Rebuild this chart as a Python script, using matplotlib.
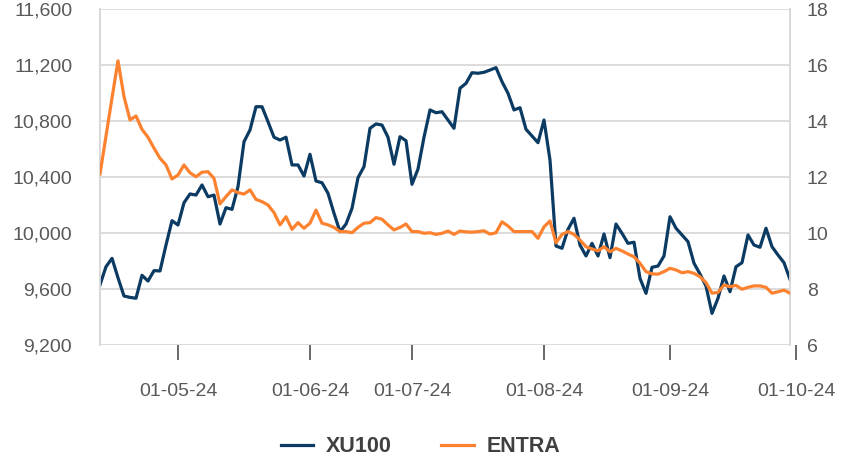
import numpy as np
import pandas as pd
import matplotlib
matplotlib.use("Agg")
import matplotlib.pyplot as plt
from matplotlib.ticker import FuncFormatter

plt.rcParams['font.family'] = ['Liberation Sans', 'DejaVu Sans']

# trading days (Borsa Istanbul), mid-April to end of September 2024
holidays = ['2024-04-10', '2024-04-11', '2024-04-12', '2024-04-23', '2024-05-01',
            '2024-06-17', '2024-06-18', '2024-06-19', '2024-07-15', '2024-08-30']
dates = pd.bdate_range('2024-04-08', '2024-09-30', freq='C', holidays=holidays)

xu100 = [9630, 9759, 9819, 9680, 9550, 9540, 9534, 9698, 9657, 9731,
         9729, 9914, 10088, 10057, 10216, 10279, 10271, 10343, 10259, 10271,
         10064, 10181, 10169, 10331, 10652, 10736, 10902, 10902, 10795, 10684,
         10664, 10684, 10486, 10486, 10407, 10562, 10371, 10359, 10284, 10141,
         10009, 10064, 10176, 10395, 10474, 10748, 10779, 10771, 10684, 10491,
         10688, 10659, 10348, 10457, 10684, 10879, 10859, 10866, 10807, 10748,
         11034, 11069, 11145, 11141, 11148, 11164, 11181, 11081, 10998, 10879,
         10895, 10741, 10693, 10645, 10807, 10521, 9907, 9891, 10026, 10105,
         9914, 9836, 9926, 9836, 9993, 9824, 10064, 9998, 9926, 9934,
         9676, 9569, 9755, 9764, 9836, 10116, 10034, 9986, 9938, 9784,
         9707, 9621, 9426, 9534, 9693, 9581, 9759, 9788, 9986, 9914,
         9898, 10034, 9902, 9843, 9788, 9669]

entra = [12.11, 13.46, 14.82, 16.15, 14.87, 14.04, 14.18, 13.70, 13.42, 13.03,
         12.67, 12.43, 11.93, 12.07, 12.43, 12.15, 12.01, 12.17, 12.19, 11.95,
         11.04, 11.30, 11.54, 11.44, 11.39, 11.54, 11.20, 11.12, 11.00, 10.73,
         10.29, 10.58, 10.13, 10.37, 10.17, 10.35, 10.82, 10.35, 10.29, 10.20,
         10.05, 10.05, 10.01, 10.20, 10.35, 10.37, 10.55, 10.49, 10.29, 10.11,
         10.20, 10.32, 10.05, 10.05, 9.99, 10.01, 9.95, 9.99, 10.07, 9.95,
         10.07, 10.04, 10.03, 10.05, 10.08, 9.96, 10.01, 10.40, 10.25, 10.05,
         10.05, 10.05, 10.05, 9.81, 10.22, 10.43, 9.65, 9.95, 10.05, 9.95,
         9.75, 9.51, 9.43, 9.36, 9.51, 9.33, 9.45, 9.36, 9.25, 9.15,
         8.92, 8.62, 8.54, 8.53, 8.62, 8.74, 8.68, 8.58, 8.62, 8.56,
         8.44, 8.23, 7.85, 7.88, 8.14, 8.08, 8.13, 7.99, 8.06, 8.11,
         8.11, 8.06, 7.85, 7.90, 7.96, 7.85]

left_ticks = np.arange(9200, 11601, 400)
right_ticks = np.arange(6, 19, 2)

navy = '#0B3A63'
orange = '#FD8230'
txt = '#595959'
grid = '#D9D9D9'

x = np.arange(len(dates))

fig = plt.figure(figsize=(8.41, 4.67), dpi=100)
L, R, T, B = 100/841, 790/841, 1-9/467, 1-345/467
ax = fig.add_axes([L, B, R-L, T-B])
ax2 = ax.twinx()

l1, = ax.plot(x, xu100, color=navy, lw=2.3, solid_joinstyle='round', zorder=3)
l2, = ax2.plot(x, entra, color=orange, lw=2.3, solid_joinstyle='round', zorder=3)

ax.set_xlim(0, len(x)-1)
ax.set_ylim(9200, 11600)
ax.set_yticks(left_ticks)
ax.yaxis.set_major_formatter(FuncFormatter(lambda v, p: '{:,.0f}'.format(v)))
ax2.set_ylim(6, 18)
ax2.set_yticks(right_ticks)

ax.grid(axis='y', color=grid, lw=1.3)
ax.set_axisbelow(True)
ax.set_xticks([])
for a in (ax, ax2):
    a.tick_params(axis='y', length=0, labelsize=14, labelcolor=txt)
    for s in a.spines.values():
        s.set_visible(False)
    a.spines['left'].set_visible(True)
    a.spines['right'].set_visible(True)
    a.spines['left'].set_color(grid)
    a.spines['right'].set_color(grid)
    a.spines['left'].set_linewidth(1.3)
    a.spines['right'].set_linewidth(1.3)
ax.tick_params(axis='y', pad=20)
ax2.tick_params(axis='y', pad=12)

# month ticks: first trading day of each month, labelled with the 1st, plus 1 October
month_pos = [i for i in range(1, len(dates)) if dates[i].month != dates[i-1].month] + [len(dates)]
month_lab = [dates[i].replace(day=1).strftime('%d-%m-%y') for i in month_pos[:-1]] + ['01-10-24']

ext = 805/841
axx = fig.add_axes([L, B, ext-L, T-B])
axx.set_xlim(0, (len(x)-1)*(ext-L)/(R-L))
axx.patch.set_visible(False)
for s in axx.spines.values():
    s.set_visible(False)
axx.set_yticks([])
axx.set_xticks(month_pos)
axx.set_xticklabels(month_lab)
axx.tick_params(axis='x', direction='out', length=11, width=1.1, color='#404040',
                pad=16, labelsize=14, labelcolor=txt)

leg = fig.legend([l1, l2], ['XU100', 'ENTRA'], loc='center', bbox_to_anchor=(0.5, 1-447/467),
                 ncol=2, frameon=False, handlelength=1.5, handletextpad=0.6, columnspacing=2.3,
                 prop={'weight': 'bold', 'size': 15.5})
for t in leg.get_texts():
    t.set_color('#404040')

fig.savefig('out.png', dpi=100)
